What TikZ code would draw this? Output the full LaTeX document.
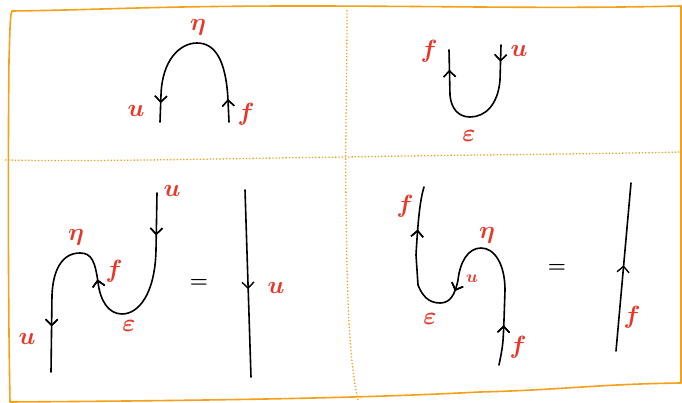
\documentclass[tikz,border=0pt]{standalone}
\usetikzlibrary{arrows.meta,decorations.markings}
\definecolor{frameor}{RGB}{245,160,25}
\definecolor{lblred}{RGB}{232,55,40}
\tikzset{
  frameline/.style={draw=frameor,line width=1.6pt,line cap=round,line join=round},
  divline/.style={draw=frameor,line width=1.3pt,dotted},
  strand/.style={draw=black,line width=1.6pt,line cap=round},
  lbl/.style={text=lblred,font=\fontsize{28}{28}\selectfont\boldmath},
  smlbl/.style={text=lblred,font=\fontsize{25}{25}\selectfont\boldmath},
  eqsign/.style={font=\fontsize{22}{22}\selectfont\boldmath},
  arr/.style={postaction={decorate},decoration={markings,
     mark=at position #1 with {\arrow{Straight Barb[length=6pt,width=12pt,line width=1.4pt]}}}}
}
\begin{document}
\begin{tikzpicture}[x=1pt,y=-1pt]
\useasboundingbox (0,0) rectangle (682,403);
% frame
\draw[frameline] (10,402) .. controls (8,300) and (8,150) .. (9,60) .. controls (10,30) and (10,15) .. (12,11)
  .. controls (100,10) and (150,6) .. (300,6) .. controls (450,6) and (550,9) .. (681,6)
  -- (681,383) .. controls (600,384) and (560,390) .. (480,392) .. controls (400,396) and (300,400) .. (10,402);
\draw[divline] (5,160) .. controls (100,162) and (250,158) .. (347,157) .. controls (450,155) and (600,154) .. (682,152);
\draw[divline] (347,10) .. controls (347,80) and (345,150) .. (346,200) .. controls (347,300) and (349,360) .. (358,400);
% panel 1 : eta
\draw[strand,arr=0.12,arr=0.9] (229,122) -- (228,100) .. controls (226,60) and (215,43) .. (197,43)
   .. controls (180,43) and (162,60) .. (161,95) -- (160,122);
\node[lbl] (eta1) at (198,27) {$\eta$};
\node[lbl] (u1) at (136,111) {$u$};
\node[lbl] (f1) at (246,114) {$f$};
% panel 2 : epsilon
\draw[strand,arr=0.1,arr=0.88] (501,45) -- (500,80) .. controls (498,105) and (485,117) .. (470,117)
   .. controls (458,117) and (451,108) .. (450,95) -- (449,50);
\node[lbl] (f2) at (429,51) {$f$};
\node[lbl] (u2) at (519,51) {$u$};
\node[lbl] (e2) at (469,136) {$\varepsilon$};
% panel 3 : snake for u
\draw[strand,arr=0.12,arr=0.52,arr=0.87] (157,193) -- (156,250) .. controls (155,295) and (138,314) .. (122,314)
   .. controls (108,314) and (100,300) .. (98,282) .. controls (95,262) and (92,253) .. (80,253)
   .. controls (62,253) and (53,270) .. (52,295) -- (51,372);
\node[smlbl] (eta3) at (76,237) {$\eta$};
\node[smlbl] (f3) at (114,271) {$f$};
\node[smlbl] (e3) at (129,326) {$\varepsilon$};
\node[smlbl] (u3a) at (172,191) {$u$};
\node[smlbl] (u3b) at (27,339) {$u$};
\node[eqsign] (eq3) at (199,283) {$=$};
\draw[strand,arr=0.53] (245,190) -- (251,377);
\node[lbl] (u3c) at (276,288) {$u$};
% panel 4 : snake for f
\draw[strand,arr=0.12,arr=0.55,arr=0.87] (499,365) .. controls (503,345) .. (504,320) -- (505,290)
   .. controls (505,265) and (495,248) .. (481,248) .. controls (468,248) and (460,262) .. (458,280)
   .. controls (455,295) and (450,303) .. (440,303) .. controls (428,303) and (422,295) .. (418,285)
   -- (416,255) .. controls (418,220) and (420,200) .. (424,187);
\node[smlbl] (f4a) at (405,206) {$f$};
\node[smlbl] (eta4) at (487,235) {$\eta$};
\node[text=lblred,font=\fontsize{17}{17}\selectfont\boldmath] (u4) at (472,279) {$u$};
\node[smlbl] (e4) at (430,319) {$\varepsilon$};
\node[smlbl] (f4b) at (518,347) {$f$};
\node[eqsign] (eq4) at (557,268) {$=$};
\draw[strand,arr=0.51] (616,351) -- (631,183);
\node[lbl] (f4c) at (632,317) {$f$};
\end{tikzpicture}
\end{document}
